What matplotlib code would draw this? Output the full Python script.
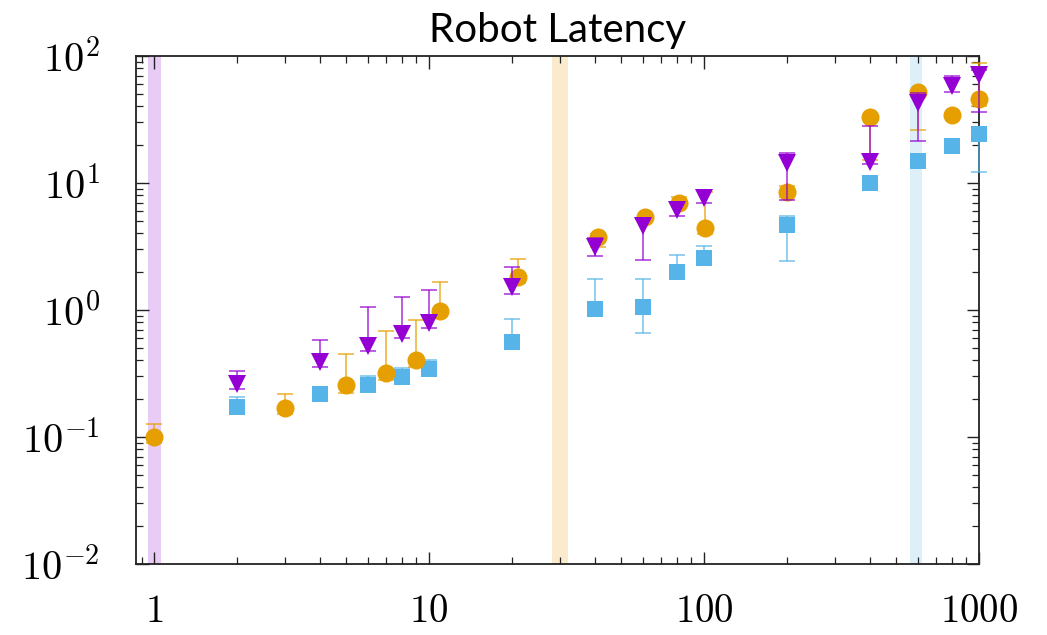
import numpy as np
import matplotlib
matplotlib.use("Agg")
import matplotlib.pyplot as plt
import matplotlib.ticker as tkr

# series (latency vs. x, log-log)
x_blue = [2, 4, 6, 8, 10, 20, 40, 60, 80, 100, 200, 400, 600, 800, 1000]
blue = [0.173, 0.218, 0.255, 0.298, 0.341, 0.563, 1.02, 1.06, 2.0, 2.55, 4.7, 9.9, 15.0, 19.6, 24.3]
blue_lo = [0.165, 0.21, 0.245, 0.285, 0.325, 0.54, 0.98, 0.655, 1.9, 2.45, 2.43, 9.5, 14.3, 18.8, 12.2]
blue_hi = [0.205, 0.225, 0.30, 0.35, 0.404, 0.85, 1.74, 1.74, 2.71, 3.19, 5.53, 10.3, 15.6, 20.3, 25.5]

x_orange = [1, 3, 5, 7, 9, 11, 21, 41, 61, 81, 101, 200, 400, 600, 800, 1000]
orange = [0.1, 0.17, 0.257, 0.317, 0.404, 0.98, 1.81, 3.78, 5.43, 7.0, 4.45, 8.55, 33.3, 51.8, 34.3, 45.8]
orange_lo = [0.089, 0.151, 0.223, 0.281, 0.358, 0.92, 1.62, 3.12, 5.1, 6.6, 3.95, 7.8, 15.2, 26.1, 33.0, 40.6]
orange_hi = [0.126, 0.219, 0.448, 0.687, 0.834, 1.67, 2.51, 3.95, 5.6, 7.8, 8.45, 9.4, 34.5, 53.0, 35.5, 88.0]

x_purple = [2, 4, 6, 8, 10, 20, 40, 60, 80, 100, 200, 400, 600, 800, 1000]
purple = [0.261, 0.392, 0.521, 0.647, 0.786, 1.51, 3.15, 4.55, 6.13, 7.58, 14.3, 14.7, 42.4, 58.0, 70.9]
purple_lo = [0.238, 0.358, 0.478, 0.602, 0.718, 1.34, 2.68, 2.48, 5.53, 6.9, 7.35, 14.0, 21.4, 52.0, 36.0]
purple_hi = [0.333, 0.58, 1.06, 1.26, 1.44, 2.19, 3.71, 5.18, 7.05, 8.81, 17.1, 28.3, 50.8, 69.6, 77.6]

# shaded vertical bands
bands = [(0.95, 1.06), (28, 32), (560, 620)]

x_ticks = [1, 10, 100, 1000]
y_ticks = [0.01, 0.1, 1, 10, 100]


def main():
    plt.rcParams['mathtext.fontset'] = 'cm'
    c_blue = '#56B4E9'
    c_orange = '#E69F00'
    c_purple = '#9400D3'

    fig = plt.figure(figsize=(10.47, 6.35), dpi=100)
    ax = fig.add_axes([0.130, 0.112, 0.805, 0.800])
    ax.set_xscale('log')
    ax.set_yscale('log')
    ax.set_xlim(0.86, 1000)
    ax.set_ylim(0.01, 100)

    for (b0, b1), c in zip(bands, [c_purple, c_orange, c_blue]):
        ax.axvspan(b0, b1, color=c, alpha=0.2, lw=0, zorder=0)

    series = [
        (x_blue, blue, blue_lo, blue_hi, c_blue, 's', 12),
        (x_orange, orange, orange_lo, orange_hi, c_orange, 'o', 13),
        (x_purple, purple, purple_lo, purple_hi, c_purple, 'v', 13),
    ]
    for k, (xs, ys, lo, hi, c, m, ms) in enumerate(series):
        ys = np.array(ys)
        yerr = [ys - np.array(lo), np.array(hi) - ys]
        line, caps, bars = ax.errorbar(xs, ys, yerr=yerr, fmt=m, color=c,
                                       ms=ms, capsize=5.5, capthick=1.2,
                                       elinewidth=1.2, zorder=3 + k)
        line.set_markeredgewidth(0)
        line.set_clip_on(False)
        for cl in caps:
            cl.set_alpha(0.75)
            cl.set_clip_on(False)
        for b in bars:
            b.set_alpha(0.75)
            b.set_clip_on(False)

    ax.xaxis.set_major_locator(tkr.FixedLocator(x_ticks))
    ax.xaxis.set_major_formatter(tkr.FuncFormatter(lambda v, p: r'$%d$' % round(v)))
    ax.yaxis.set_major_locator(tkr.FixedLocator(y_ticks))
    ax.yaxis.set_major_formatter(tkr.FuncFormatter(lambda v, p: r'$10^{%d}$' % round(np.log10(v))))
    ax.xaxis.set_minor_locator(tkr.LogLocator(base=10, subs=np.arange(2, 10)))
    ax.yaxis.set_minor_locator(tkr.LogLocator(base=10, subs=np.arange(2, 10)))
    ax.xaxis.set_minor_formatter(tkr.NullFormatter())
    ax.yaxis.set_minor_formatter(tkr.NullFormatter())

    ax.tick_params(which='both', direction='in', top=True, right=True, color='#222222')
    ax.tick_params(which='major', length=9, width=1.0)
    ax.tick_params(which='minor', length=5, width=0.9)
    ax.tick_params(axis='x', which='major', labelsize=28, pad=20)
    ax.tick_params(axis='y', which='major', labelsize=29, pad=26)
    for s in ax.spines.values():
        s.set_linewidth(1.3)
        s.set_color('#222222')

    ax.set_title("Robot Latency", fontsize=29, family='Lato', pad=10)

    plt.savefig("out.png", dpi=100)


if __name__ == "__main__":
    main()
